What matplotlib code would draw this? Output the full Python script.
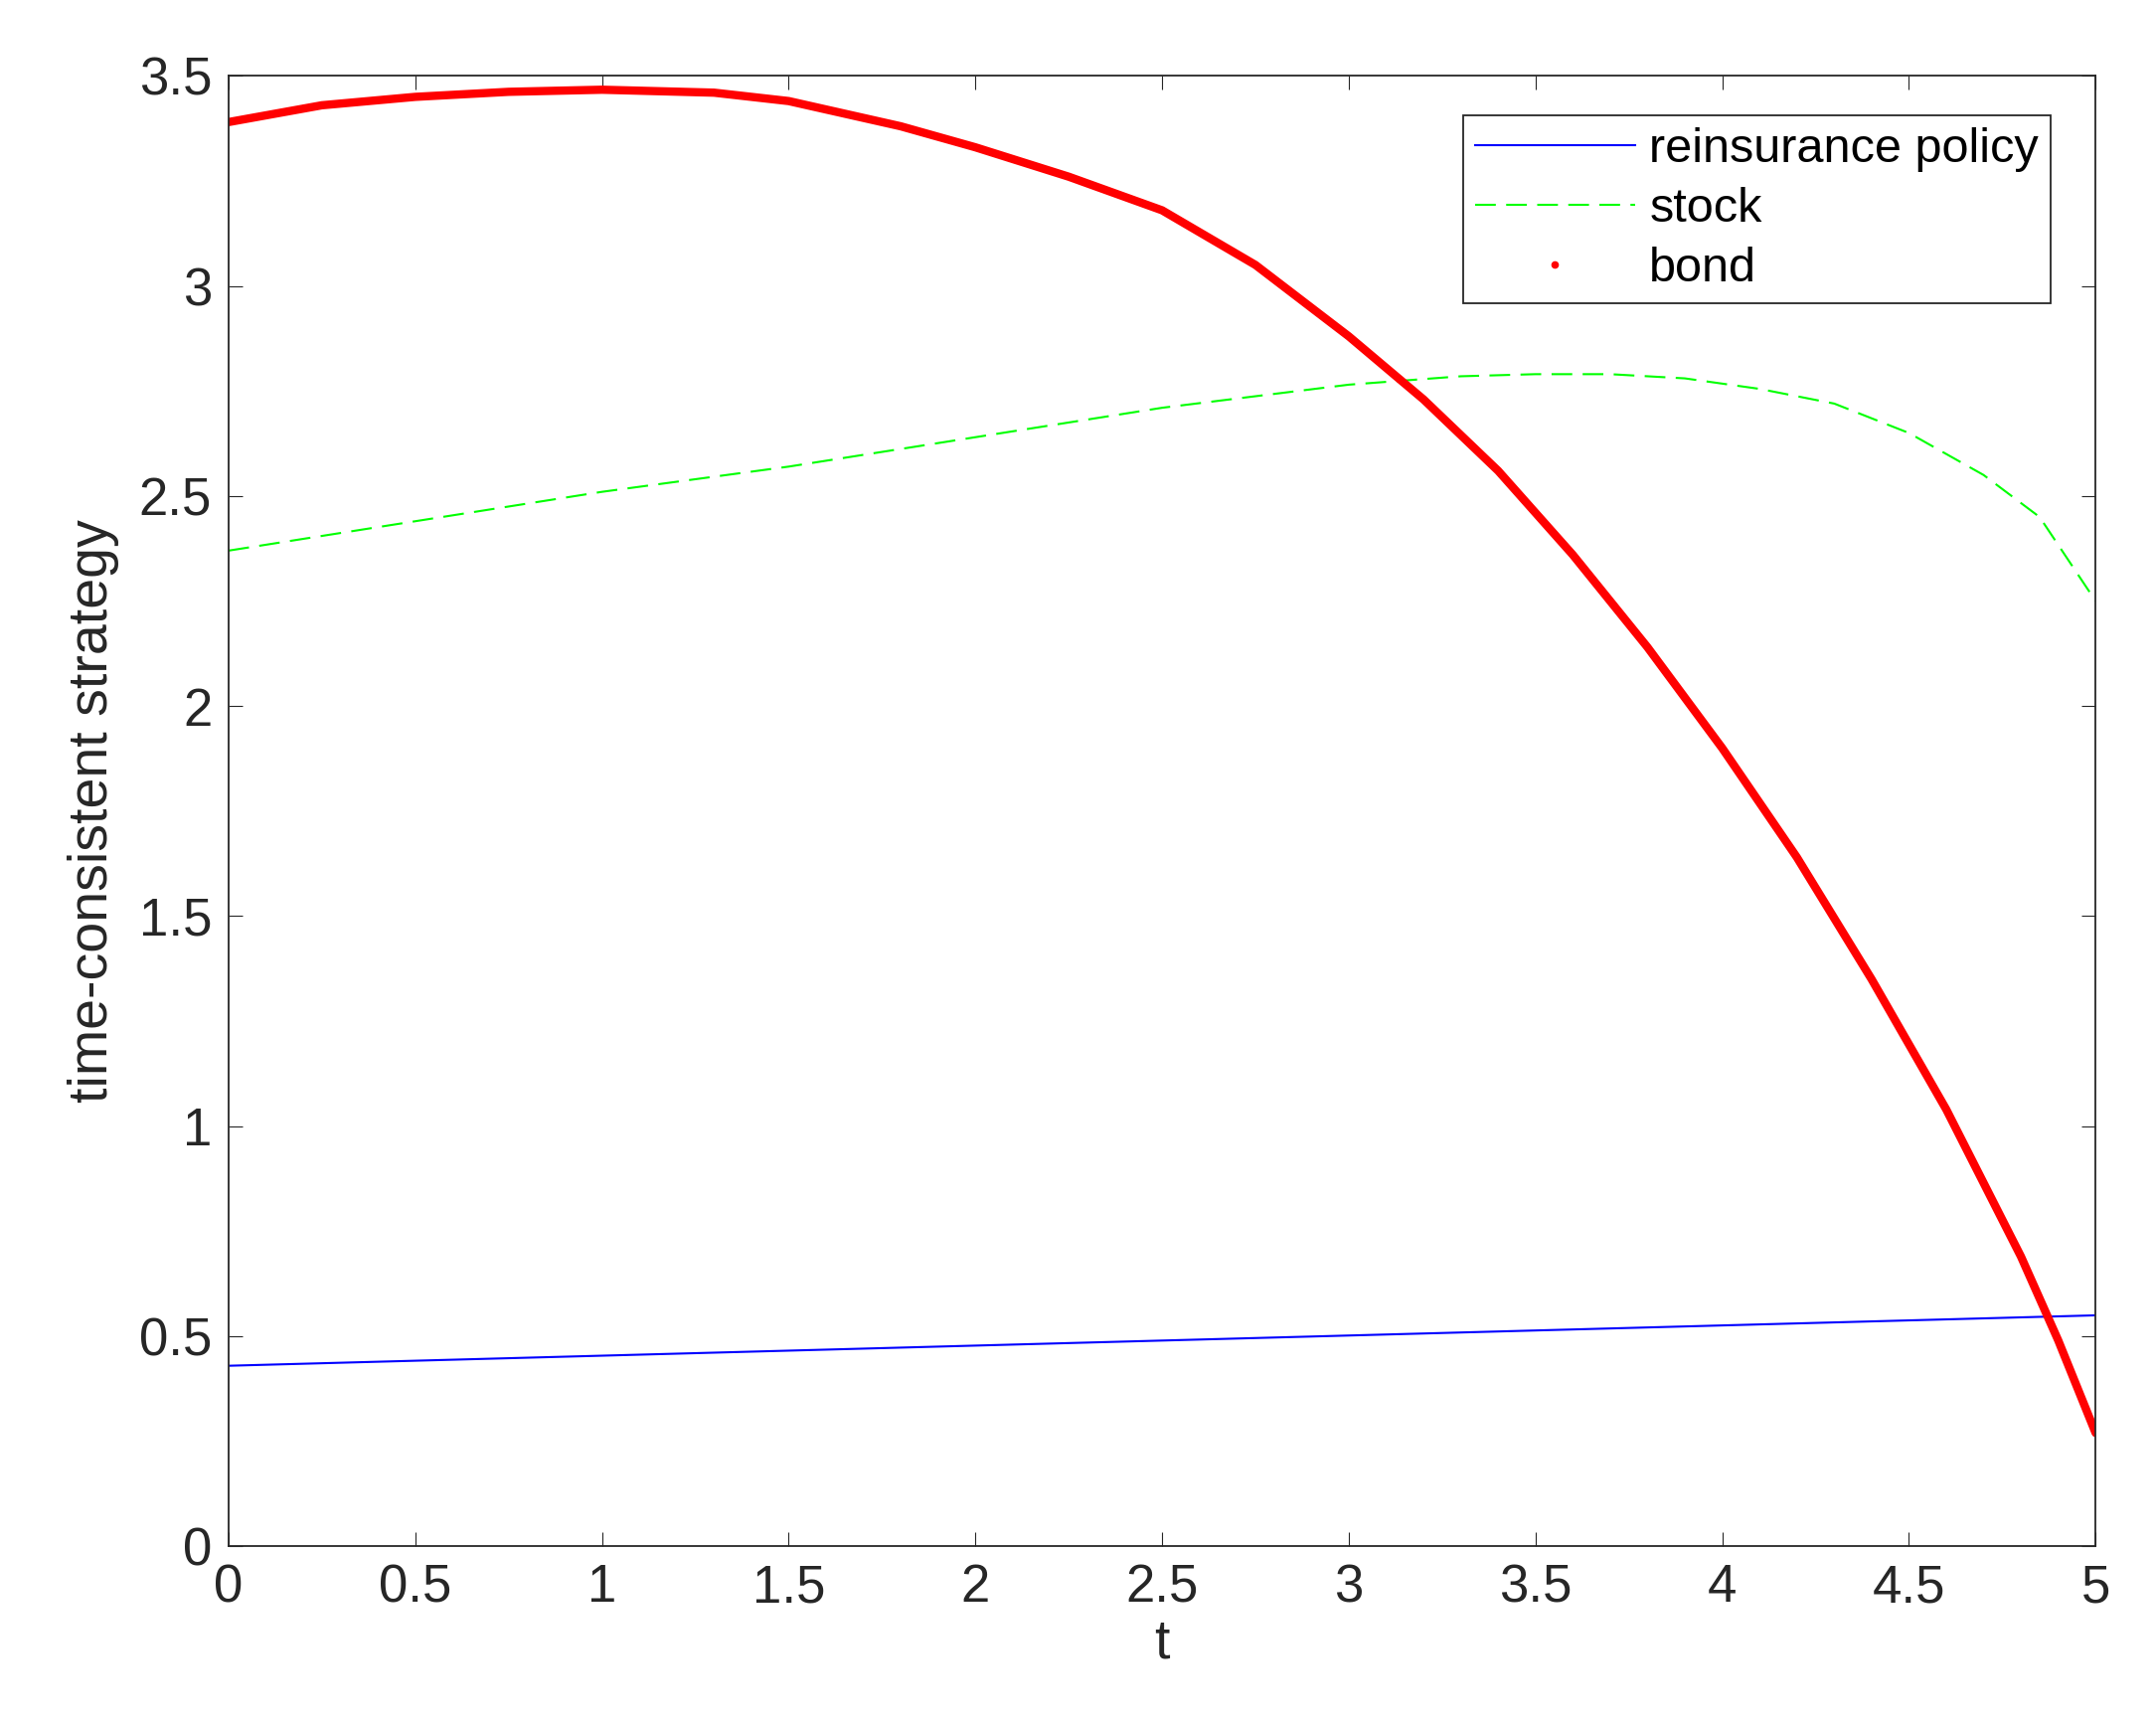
import matplotlib
matplotlib.use("Agg")
import matplotlib.pyplot as plt
from matplotlib.lines import Line2D

plt.rcParams['font.family'] = ['Liberation Sans', 'DejaVu Sans']

t_re = [0, 5]
re = [0.43, 0.55]
t_stock = [0, 0.5, 1, 1.5, 2, 2.5, 3, 3.3, 3.5, 3.7, 3.9, 4.1, 4.3, 4.5, 4.7, 4.85, 5]
stock = [2.37, 2.44, 2.51, 2.57, 2.64, 2.71, 2.765, 2.785, 2.79, 2.79, 2.78, 2.755, 2.72, 2.65, 2.55, 2.45, 2.25]
t_bond = [0, 0.25, 0.5, 0.75, 1, 1.3, 1.5, 1.65, 1.8, 2, 2.25, 2.5, 2.75, 3, 3.2, 3.4, 3.6, 3.8, 4.0, 4.2, 4.4, 4.6, 4.8, 4.9, 5]
bond = [3.39, 3.43, 3.45, 3.462, 3.467, 3.46, 3.44, 3.41, 3.38, 3.33, 3.26, 3.18, 3.05, 2.88, 2.73, 2.56, 2.36, 2.14, 1.9, 1.64, 1.35, 1.04, 0.69, 0.49, 0.27]

fig = plt.figure(figsize=(21.69, 17.34), dpi=100)
ax = fig.add_axes([0.106, 0.103, 0.866, 0.853])
ax.plot(t_re, re, color='#0000ff', lw=1.5)
ax.plot(t_stock, stock, color='#00ff00', lw=1.5, dashes=(10, 5))
ax.plot(t_bond, bond, color='#ff0000', lw=6, solid_capstyle='round', solid_joinstyle='round')
ax.set_xlim(0, 5)
ax.set_ylim(0, 3.5)
ax.set_xticks([0, 0.5, 1, 1.5, 2, 2.5, 3, 3.5, 4, 4.5, 5])
ax.set_xticklabels(['0', '0.5', '1', '1.5', '2', '2.5', '3', '3.5', '4', '4.5', '5'])
ax.set_yticks([0, 0.5, 1, 1.5, 2, 2.5, 3, 3.5])
ax.set_yticklabels(['0', '0.5', '1', '1.5', '2', '2.5', '3', '3.5'])
ax.tick_params(labelsize=38, direction='in', length=10, top=True, right=True, colors='#262626', pad=12)
for s in ax.spines.values():
    s.set_color('#262626'); s.set_linewidth(1.3)
ax.set_xlabel('t', fontsize=40, color='#262626', labelpad=4)
ax.set_ylabel('time-consistent strategy', fontsize=40, color='#262626', labelpad=14)
handles = [Line2D([], [], color='#0000ff', lw=1.5),
           Line2D([], [], color='#00ff00', lw=1.5, dashes=(10, 5)),
           Line2D([], [], color='#ff0000', marker='.', ls='none', markersize=9)]
leg = ax.legend(handles, ['reinsurance policy', 'stock', 'bond'], loc='upper right',
                bbox_to_anchor=(0.976, 0.973), fontsize=35, fancybox=False, framealpha=1,
                edgecolor='#262626', handlelength=3.3, handletextpad=0.3, borderpad=0.25,
                labelspacing=0.3, borderaxespad=0)
leg.get_frame().set_linewidth(1.3)
fig.savefig('out.png', dpi=100)
